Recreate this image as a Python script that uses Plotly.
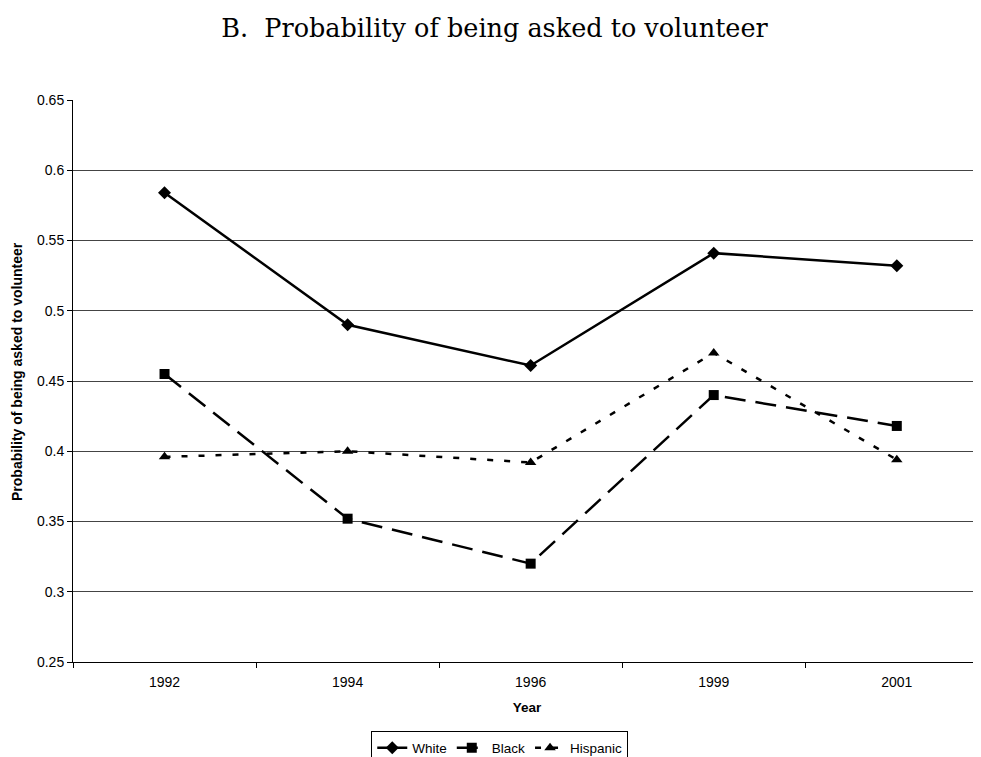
import plotly.graph_objects as go

years = ["1992", "1994", "1996", "1999", "2001"]
white = [0.584, 0.490, 0.461, 0.541, 0.532]
black = [0.455, 0.352, 0.320, 0.440, 0.418]
hispanic = [0.396, 0.400, 0.392, 0.470, 0.394]
y_ticks = [0.25, 0.3, 0.35, 0.4, 0.45, 0.5, 0.55, 0.6, 0.65]
y_tick_labels = ["0.25", "0.3", "0.35", "0.4", "0.45", "0.5", "0.55", "0.6", "0.65"]

fig = go.Figure()
fig.add_trace(go.Scatter(x=years, y=white, name="White", mode="lines+markers",
                         line=dict(color="black", width=2.5),
                         marker=dict(symbol="diamond", size=10, color="black")))
fig.add_trace(go.Scatter(x=years, y=black, name="Black", mode="lines+markers",
                         line=dict(color="black", width=2.5, dash="21px,10px"),
                         marker=dict(symbol="square", size=10, color="black")))
fig.add_trace(go.Scatter(x=years, y=hispanic, name="Hispanic", mode="lines+markers",
                         line=dict(color="black", width=2.5, dash="6px,11px"),
                         marker=dict(symbol="triangle-up", size=10, color="black")))

fig.add_annotation(text="<b>Probability of being asked to volunteer</b>", textangle=-90,
                   xref="paper", yref="paper", x=-56/908, xanchor="center",
                   y=0.516, yanchor="middle", showarrow=False,
                   font=dict(family="Liberation Sans, Arial", size=14, color="black"))

fig.update_layout(
    width=973, height=749,
    paper_bgcolor="white", plot_bgcolor="white",
    margin=dict(l=65, r=0, t=92, b=95, autoexpand=False),
    title=dict(text="B.  Probability of being asked to volunteer", x=0.5, xanchor="center",
               y=0.973, yanchor="middle",
               font=dict(family="DejaVu Serif", size=25.5, color="black")),
    font=dict(family="Liberation Sans, Arial", size=14, color="black"),
    showlegend=True,
    legend=dict(orientation="h", x=0.47, xanchor="center", y=-0.153, yanchor="middle",
                bordercolor="black", borderwidth=1, font=dict(size=13.5),
                itemwidth=30, tracegroupgap=0),
    xaxis=dict(type="category", range=[-0.5, 4.46], showgrid=False, automargin=False,
               showline=True, linecolor="black", linewidth=1,
               ticks="outside", ticklen=5, tickcolor="black", tickson="boundaries",
               ticklabelstandoff=7,
               title=dict(text="<b>Year</b>", font=dict(size=13.5), standoff=13),
               tickfont=dict(size=14)),
    yaxis=dict(range=[0.25, 0.65], tickvals=y_ticks, ticktext=y_tick_labels,
               showgrid=True, gridcolor="#444444", gridwidth=1, automargin=False,
               showline=True, linecolor="black", linewidth=1,
               ticks="outside", ticklen=5, tickcolor="black",
               zeroline=False,
               tickfont=dict(size=14)),
)

fig.write_html("out.html")
